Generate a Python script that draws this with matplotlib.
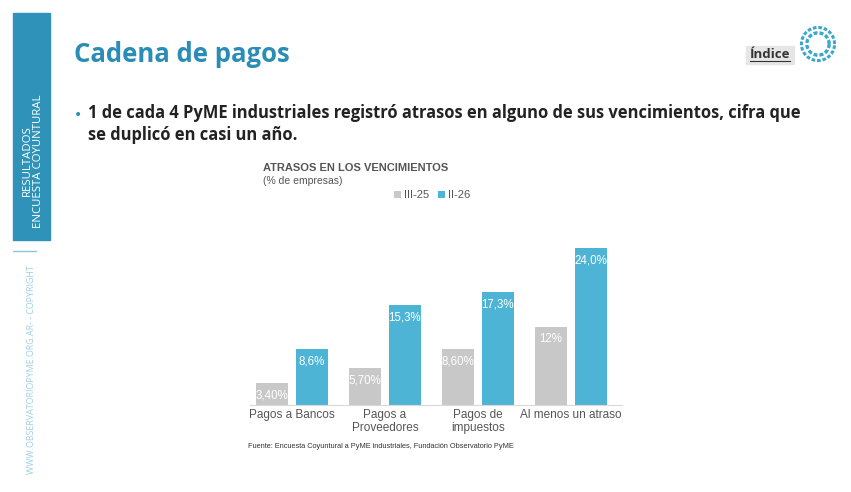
import matplotlib
matplotlib.use("Agg")
import matplotlib.pyplot as plt
import numpy as np
from matplotlib.patches import Rectangle, Circle

categories = ["Pagos a Bancos", "Pagos a\nProveedores", "Pagos de\nimpuestos", "Al menos un atraso"]
s1_name, s2_name = "III-25", "II-26"
s1 = [3.4, 5.7, 8.6, 12.0]
s2 = [8.6, 15.3, 17.3, 24.0]
s1_labels = ["3,40%", "5,70%", "8,60%", "12%"]
s2_labels = ["8,6%", "15,3%", "17,3%", "24,0%"]

W, H = 851, 492
fig = plt.figure(figsize=(W/100, H/100), dpi=100)
fig.patch.set_facecolor("white")
def fx(x): return x/W
def fy(y): return 1 - y/H

blue_dark = "#2f93b9"
# sidebar
fig.patches.append(Rectangle((fx(13), fy(240)), fx(37), (240-13)/H, color=blue_dark, transform=fig.transFigure))
fig.text(fx(33), fy(161), "RESULTADOS\nENCUESTA COYUNTURAL", rotation=90, color="white", fontsize=8.2,
         ha="center", va="center", family="Open Sans", linespacing=1.0)
fig.lines.append(plt.Line2D([fx(13), fx(36)], [fy(251), fy(251)], color="#8cc6dc", lw=1, transform=fig.transFigure))
fig.text(fx(31), fy(370), "WWW.OBSERVATORIOPYME.ORG.AR- - COPYRIGHT", rotation=90, color="#9fd0e2", fontsize=6.4,
         ha="center", va="center", family="Open Sans")

# title
fig.text(fx(74), fy(55), "Cadena de pagos", color="#2a8db5", fontsize=18.5, fontweight="bold", family="Open Sans", va="center")
fig.text(fx(74), fy(115), "•", color="#2a8db5", fontsize=10, va="center")
fig.text(fx(88), fy(124), "1 de cada 4 PyME industriales registró atrasos en alguno de sus vencimientos, cifra que\nse duplicó en casi un año.",
         color="#222222", fontsize=11.9, fontweight="bold", family="Open Sans", va="center", linespacing=1.3)
# Índice
fig.patches.append(Rectangle((fx(746), fy(64)), fx(48), 18/H, color="#e6e6e6", transform=fig.transFigure))
fig.text(fx(770), fy(55), "Índice", ha="center", va="center", fontsize=9.5, fontweight="bold", color="#333333", family="Open Sans")
fig.lines.append(plt.Line2D([fx(750), fx(790)], [fy(61), fy(61)], color="#333333", lw=0.8, transform=fig.transFigure))
# logo
lax = fig.add_axes([fx(800), fy(62), fx(36), 36/H])
lax.set_xlim(-1, 1); lax.set_ylim(-1, 1); lax.set_aspect("equal"); lax.axis("off")
for r, lw in [(0.92, 2.2), (0.62, 2.4)]:
    th = np.linspace(0, 2*np.pi, 300)
    lax.plot(r*np.cos(th), r*np.sin(th), color="#3aa7cc", lw=lw, ls=(0, (1.2, 0.6)))

# chart
ax = fig.add_axes([fx(250), fy(405), fx(372), (405-232)/H])
x = np.arange(len(categories))
off, bw = 0.215, 0.345
gray, blue = "#c8c8c8", "#4eb4d6"
b1 = ax.bar(x-off, s1, bw, color=gray, label=s1_name)
b2 = ax.bar(x+off, s2, bw, color=blue, label=s2_name)
for xi, v, l in zip(x, s1, s1_labels):
    ax.text(xi-off, v-1.0, l, ha="center", va="top", color="white", fontsize=8.3, family="Liberation Sans")
for xi, v, l in zip(x, s2, s2_labels):
    ax.text(xi+off, v-1.0, l, ha="center", va="top", color="white", fontsize=8.3, family="Liberation Sans")
ax.set_xlim(-0.45, 3.55); ax.set_ylim(0, 26.45)
ax.set_yticks([])
ax.set_xticks(x); ax.set_xticklabels(categories, fontsize=8.5, color="#555555", family="Liberation Sans", linespacing=1.1)
ax.tick_params(axis="x", length=0, pad=3)
for s in ["top", "right", "left"]:
    ax.spines[s].set_visible(False)
ax.spines["bottom"].set_color("#d9d9d9")
ax.patch.set_alpha(0)

fig.text(fx(263), fy(168), "ATRASOS EN LOS VENCIMIENTOS", fontsize=8, fontweight="bold", color="#555555", family="Liberation Sans", va="center")
fig.text(fx(263), fy(181), "(% de empresas)", fontsize=7.5, color="#555555", family="Liberation Sans", va="center")
leg = fig.legend(handles=[b1, b2], loc="center", bbox_to_anchor=(fx(432), fy(195)), ncol=2, frameon=False,
                 handlelength=0.6, handleheight=0.6, handletextpad=0.3, columnspacing=0.8,
                 prop={"family": "Liberation Sans", "size": 8})
for t in leg.get_texts(): t.set_color("#555555")
fig.text(fx(248), fy(446), "Fuente: Encuesta Coyuntural a PyME industriales, Fundación Observatorio PyME",
         fontsize=5.3, color="#333333", family="Liberation Sans", va="center")

fig.savefig("out.png", dpi=100, facecolor="white")
